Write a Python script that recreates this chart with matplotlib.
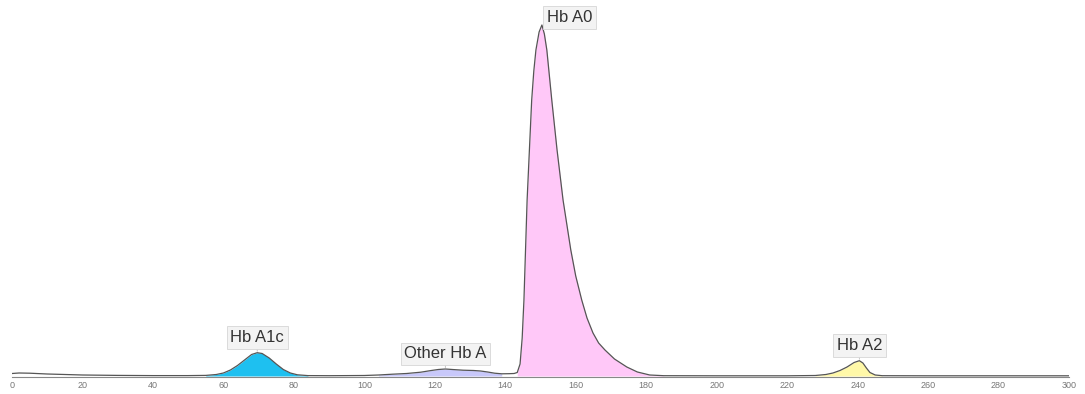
import numpy as np
import matplotlib.pyplot as plt

# chromatogram trace (retention time in s, detector signal in arbitrary units)
time_s = [0, 2, 5, 10, 15, 20, 30, 40, 50, 55,
          58, 60, 62, 64, 66, 68, 69.6, 71, 73, 75, 77, 79, 81, 84,
          90, 95, 100, 104, 108, 112, 116, 119, 121, 123, 125, 128, 131, 133, 135, 137, 139, 141,
          142.5, 143.4, 144.2, 144.8, 145.3, 146.2, 147.5, 148.1, 148.7, 149.6, 150.4, 151.1, 151.8,
          153.2, 154.7, 156.4, 158.6, 160, 161.7, 163.2, 164.9, 166.5, 168.3, 171, 174.5, 177.5, 181, 185,
          200, 220, 228, 231, 233, 235, 237, 239, 240.5, 241.5, 242.5, 243.5, 245, 247,
          260, 280, 300]
signal = [2.5, 3, 2.8, 2, 1.5, 1, 0.6, 0.4, 0.4, 0.6,
          1.5, 3, 6, 10.5, 16, 21.5, 23.3, 22.5, 18, 12, 6.5, 3, 1.2, 0.4,
          0.3, 0.4, 0.5, 1, 1.8, 2.5, 3.8, 5.5, 6.5, 7, 6.5, 5.8, 5.5, 5, 4, 2.8, 2.2, 2.3,
          2.5, 3.5, 12, 38, 76, 176, 276, 305, 326, 344, 351, 342, 326,
          276, 226, 176, 126, 100, 76, 58, 43, 33, 26, 17, 9, 4, 1, 0.3,
          0.2, 0.2, 0.5, 1.5, 3, 5.5, 9, 13.5, 15.3, 13, 8, 3.5, 1, 0.3,
          0.2, 0.2, 0.2]

# integrated peaks
peak_names = ["Hb A1c", "Other Hb A", "Hb A0", "Hb A2"]
peak_start = [55, 102, 143.4, 228]
peak_end = [84, 139.5, 185, 247]
peak_apex = [69.6, 123, 150.4, 240.5]
peak_colors = ["#1EC0F0", "#C8C8FA", "#FFC8F8", "#FFF8A8"]

ticks = list(range(0, 301, 20))

t = np.array(time_s)
s = np.array(signal)

fig = plt.figure(figsize=(10.85, 3.94), dpi=100)
ax = fig.add_axes([12 / 1085, 17 / 394, 1057 / 1085, 377 / 394])

for name, a, b, c in zip(peak_names, peak_start, peak_end, peak_colors):
    mask = (t >= a) & (t <= b)
    ax.fill_between(t[mask], 0, s[mask], color=c, lw=0)

ax.plot(t, s, color="#555555", lw=0.9)

for i, name in enumerate(peak_names):
    apex_h = np.interp(peak_apex[i], t, s)
    if name == "Hb A0":
        xy_text, ha = (3.5, 0), "left"
    else:
        xy_text, ha = (0, 5.5), "center"
    ax.annotate(name, xy=(peak_apex[i], apex_h), xytext=xy_text,
                textcoords="offset points", ha=ha, va="bottom",
                fontsize=12, family="Liberation Sans", color="#333333",
                bbox=dict(boxstyle="square,pad=0.22", fc="#F3F3F3", ec="#D6D6D6", lw=0.6),
                arrowprops=dict(arrowstyle="-", color="#BBBBBB", lw=0.6,
                                shrinkA=0, shrinkB=1) if name != "Hb A0" else None)

ax.set_xlim(0, 300)
ax.set_ylim(-1, 376)
for side in ["top", "left", "right"]:
    ax.spines[side].set_visible(False)
ax.spines["bottom"].set_color("#888888")
ax.spines["bottom"].set_linewidth(0.8)
ax.set_yticks([])
ax.set_xticks(ticks)
ax.set_xticklabels([str(v) for v in ticks])
ax.tick_params(axis="x", which="major", length=0, pad=3, labelsize=6.5, labelcolor="#777777")
ax.set_xticks([0, 300], minor=True)
ax.tick_params(axis="x", which="minor", length=8, width=0.8, color="#666666")
for lab in ax.get_xticklabels():
    lab.set_family("Liberation Sans")

fig.savefig("out.png", dpi=100)
